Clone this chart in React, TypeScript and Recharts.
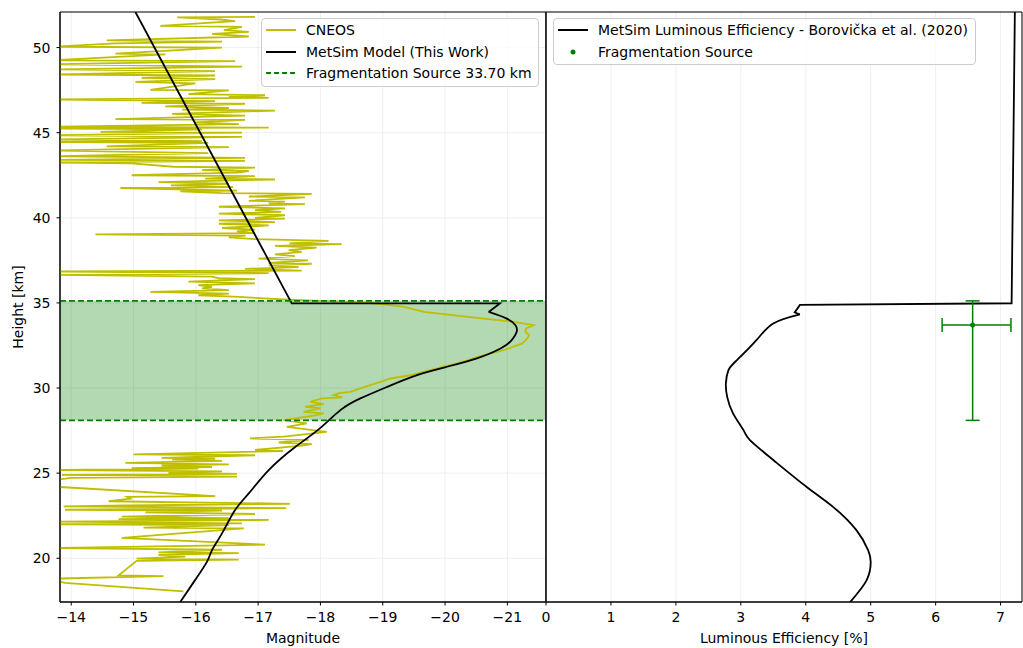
import React from "react";
import {
  ComposedChart,
  Line,
  Scatter,
  ErrorBar,
  XAxis,
  YAxis,
  CartesianGrid,
  ReferenceArea,
  ReferenceLine,
} from "recharts";

// shared height axis [km]
const heightDomain = [17.43, 52.09];
const heightTicks = [20, 25, 30, 35, 40, 45, 50];

// left panel: magnitude (reversed)
const magDomain = [-21.62, -13.82];
const magTicks = [-14, -15, -16, -17, -18, -19, -20, -21];

// right panel: luminous efficiency [%]
const effDomain = [0, 7.33];
const effTicks = [0, 1, 2, 3, 4, 5, 6, 7];

// fragmentation source band [km]
const fragTop = 35.12;
const fragBottom = 28.1;

// CNEOS light curve: [height km, magnitude]
const cneos: [number, number][] = [
  [51.8, -16.95], [51.78, -15.7], [51.65, -16.4], [51.55, -16.63], [51.28, -15.43], [51.22, -16.74],
  [51.02, -16.45], [50.92, -16.85], [50.8, -16.26], [50.65, -16.85], [50.42, -14.57], [50.35, -16.42],
  [50.25, -14.71], [50.05, -13.7], [50.0, -16.42], [49.65, -14.71], [49.6, -15.51], [49.25, -13.7],
  [49.2, -16.63], [49.02, -13.7], [48.88, -16.74], [48.72, -13.75], [48.62, -16.31], [48.42, -13.7],
  [48.36, -16.31], [48.22, -15.13], [48.15, -16.31], [47.98, -15.03], [47.9, -15.99], [47.52, -15.27],
  [47.48, -16.53], [47.26, -15.88], [47.2, -17.11], [47.1, -16.53], [47.05, -17.17], [46.95, -13.7],
  [46.85, -16.31], [46.75, -15.13], [46.7, -16.79], [46.55, -15.51], [46.45, -16.53], [46.35, -15.78],
  [46.3, -17.27], [46.1, -15.62], [46.0, -16.79], [45.8, -14.71], [45.75, -16.79], [45.6, -15.99],
  [45.5, -16.69], [45.35, -13.7], [45.3, -17.17], [45.25, -13.7], [45.2, -16.1], [45.05, -14.47],
  [45.0, -16.74], [44.85, -13.7], [44.75, -16.74], [44.6, -13.7], [44.5, -16.1], [44.45, -13.7],
  [44.4, -16.2], [44.2, -14.57], [44.15, -16.53], [43.95, -13.7], [43.8, -16.2], [43.62, -13.7],
  [43.52, -16.79], [43.4, -13.7], [43.35, -16.79], [43.25, -13.7], [43.2, -14.97], [43.0, -15.64],
  [42.95, -16.95], [42.8, -16.1], [42.75, -16.85], [42.65, -16.66], [42.5, -14.97], [42.45, -16.95],
  [42.3, -16.15], [42.25, -17.27], [42.1, -15.4], [42.0, -16.53], [41.9, -15.6], [41.8, -16.6],
  [41.75, -14.79], [41.6, -16.66], [41.55, -15.75], [41.45, -16.42], [41.4, -17.86], [41.25, -16.85],
  [41.2, -17.75], [41.0, -16.85], [40.95, -17.43], [40.85, -17.17], [40.8, -17.75], [40.65, -16.37],
  [40.55, -17.43], [40.45, -16.95], [40.35, -17.37], [40.25, -16.37], [40.15, -17.43], [40.0, -16.95],
  [39.95, -17.43], [39.85, -16.37], [39.75, -17.27], [39.65, -16.37], [39.55, -17.17], [39.4, -16.42],
  [39.3, -16.95], [39.2, -16.66], [39.1, -16.95], [39.03, -14.39], [38.95, -16.8], [38.85, -16.53],
  [38.75, -16.95], [38.65, -18.13], [38.5, -17.5], [38.45, -18.34], [38.35, -17.27], [38.25, -17.94],
  [38.1, -17.49], [38.0, -17.7], [37.85, -17.27], [37.75, -17.59], [37.6, -17.01], [37.5, -17.8],
  [37.35, -17.17], [37.3, -17.86], [37.2, -17.17], [37.1, -17.65], [37.0, -16.79], [36.9, -17.7],
  [36.85, -13.7], [36.75, -17.17], [36.65, -13.75], [36.55, -16.26], [36.45, -16.37], [36.4, -16.95],
  [36.25, -15.88], [36.15, -16.95], [36.05, -16.04], [35.95, -16.26], [35.85, -16.1], [35.75, -16.53],
  [35.65, -15.27], [35.55, -16.53], [35.45, -16.04], [35.35, -16.69], [35.2, -17.43], [35.12, -18.0],
  [35.05, -18.6], [34.93, -18.99], [34.77, -19.34], [34.47, -19.66], [34.08, -20.62], [33.89, -21.1],
  [33.69, -21.42], [33.5, -21.3], [33.3, -21.29], [33.1, -21.35], [32.91, -21.32], [32.62, -21.24],
  [32.22, -20.94], [31.93, -20.62], [31.44, -20.19], [31.15, -19.87], [30.75, -19.44], [30.56, -19.12],
  [30.4, -19.0], [30.17, -18.8], [29.98, -18.64], [29.78, -18.48], [29.7, -18.3], [29.58, -18.21],
  [29.45, -18.35], [29.39, -18.02], [29.19, -17.84], [29.05, -18.05], [28.9, -17.76], [28.8, -18.0],
  [28.6, -17.73], [28.51, -18.05], [28.41, -17.94], [28.12, -17.41], [27.92, -17.78], [27.72, -17.46],
  [27.43, -18.1], [27.14, -17.41], [27.04, -16.87], [26.95, -17.81], [26.8, -17.33], [26.7, -17.86],
  [26.62, -17.7], [26.36, -16.95], [26.3, -17.4], [26.1, -15.0], [26.05, -16.95], [25.9, -15.45],
  [25.85, -16.31], [25.8, -15.62], [25.72, -16.42], [25.6, -14.87], [25.52, -16.53], [25.45, -15.45],
  [25.36, -16.26], [25.3, -14.97], [25.26, -16.04], [25.18, -13.7], [25.1, -16.42], [25.02, -15.56],
  [24.96, -16.66], [24.9, -13.85], [24.8, -16.66], [24.72, -14.0], [24.58, -13.7], [24.2, -13.75],
  [23.65, -16.31], [23.6, -14.9], [23.5, -14.95], [23.35, -14.6], [23.2, -17.51], [23.1, -14.9],
  [23.05, -13.88], [22.95, -17.45], [22.85, -13.9], [22.8, -16.42], [22.7, -15.19], [22.6, -16.95],
  [22.45, -14.81], [22.35, -16.53], [22.3, -14.76], [22.25, -17.17], [22.15, -13.7], [22.05, -16.74],
  [22.0, -13.7], [21.95, -16.53], [21.8, -15.16], [21.75, -16.77], [21.2, -14.81], [20.8, -17.11],
  [20.6, -13.7], [20.5, -16.42], [20.35, -15.4], [20.3, -16.69], [20.2, -15.4], [20.1, -15.83],
  [19.98, -15.05], [19.92, -16.69], [19.85, -15.05], [19.0, -14.76], [18.95, -15.48], [18.8, -13.7],
  [18.65, -13.8], [18.55, -13.9], [18.05, -15.8],
];

// MetSim model light curve: straight part above the break, smooth part below
const modelUpper: [number, number][] = [
  [52.09, -15.03], [34.97, -17.54], [34.97, -20.88], [34.47, -20.7],
];
const modelLower: [number, number][] = [
  [34.47, -20.7], [34.08, -20.99], [33.69, -21.13], [33.3, -21.15], [32.81, -21.07], [32.32, -20.89],
  [31.74, -20.51], [31.25, -20.03], [30.76, -19.55], [30.07, -19.07], [29.39, -18.64], [28.7, -18.32],
  [27.6, -17.98], [26.55, -17.6], [25.18, -17.17], [23.81, -16.85], [22.83, -16.63], [21.46, -16.42],
  [20.48, -16.26], [19.8, -16.18], [18.73, -15.99], [17.43, -15.75],
];

// MetSim luminous efficiency [%]: straight part above the break, smooth part below
const effUpper: [number, number][] = [
  [52.09, 7.22], [34.98, 7.17], [34.88, 3.91], [34.44, 3.83], [34.32, 3.91],
];
const effLower: [number, number][] = [
  [34.32, 3.91], [33.79, 3.5], [32.81, 3.24], [31.64, 2.94], [31.05, 2.81], [30.27, 2.77],
  [29.48, 2.79], [28.51, 2.88], [27.53, 3.04], [26.94, 3.14], [25.77, 3.5], [24.2, 4.01],
  [23.02, 4.42], [21.65, 4.78], [20.48, 4.96], [19.8, 5.0], [18.73, 4.94], [17.41, 4.68],
];

// fragmentation source with asymmetric errors: eff [low, high], height [low, high]
const fragSource = [{ h: 33.7, eff: 6.57, effErr: [0.47, 0.59], hErr: [5.6, 1.42] }];

const toMag = (rows: [number, number][]) => rows.map(([h, mag]) => ({ h, mag }));
const toEff = (rows: [number, number][]) => rows.map(([h, eff]) => ({ h, eff }));

const FONT = "'DejaVu Sans', sans-serif";
const FS = 14;
const tickStyle = { fontSize: FS, fill: "#000", fontFamily: FONT };
const labelStyle = { fill: "#000", fontSize: FS, fontFamily: FONT };
const GRID = "#ebebeb";
const GREEN = "#008000";
const YELLOW = "#bfbf00";

const fmt = (v: number) => (v < 0 ? `\u2212${Math.abs(v)}` : `${v}`);

type LegendItem = { label: string; kind: "line" | "dash" | "dot"; color: string };

const LegendBox = ({ left, width, items }: { left: number; width: number; items: LegendItem[] }) => (
  <div
    style={{
      position: "absolute",
      left,
      top: 18,
      width,
      height: items.length * 21.5 + 4,
      background: "rgba(255,255,255,0.8)",
      border: "1px solid #cccccc",
      borderRadius: 4,
      boxSizing: "border-box",
      fontFamily: FONT,
      fontSize: FS,
      color: "#000",
    }}
  >
    {items.map((it, i) => (
      <div key={it.label} style={{ position: "absolute", left: 4, top: 1 + i * 21.5, height: 20, display: "flex", alignItems: "center", whiteSpace: "nowrap" }}>
        <svg width={30} height={10} style={{ marginRight: 10 }}>
          {it.kind === "dot" ? (
            <circle cx={15} cy={5} r={2.5} fill={it.color} />
          ) : (
            <line x1={0} x2={30} y1={5} y2={5} stroke={it.color} strokeWidth={2} strokeDasharray={it.kind === "dash" ? "5 3" : undefined} />
          )}
        </svg>
        <span>{it.label}</span>
      </div>
    ))}
  </div>
);

export default function App() {
  return (
    <div style={{ position: "absolute", left: 0, top: 0, width: 1023, height: 648, background: "#fff", overflow: "hidden" }}>
      <div style={{ position: "absolute", left: 0, top: 0 }}>
        <ComposedChart layout="vertical" width={546} height={648} margin={{ top: 12, right: 0, bottom: 0, left: 0 }}>
          <CartesianGrid stroke={GRID} strokeWidth={0.8} />
          <XAxis
            type="number"
            dataKey="mag"
            domain={magDomain}
            reversed
            allowDataOverflow
            ticks={magTicks}
            interval={0}
            tickFormatter={fmt}
            tick={tickStyle}
            tickSize={3.5}
            tickMargin={7}
            stroke="#000"
            height={46}
            label={{ value: "Magnitude", position: "insideBottom", offset: 5, ...labelStyle }}
          />
          <YAxis
            type="number"
            dataKey="h"
            domain={heightDomain}
            reversed
            allowDataOverflow
            ticks={heightTicks}
            interval={0}
            tick={tickStyle}
            tickSize={3.5}
            tickMargin={6}
            stroke="#000"
            width={60}
          />
          <ReferenceArea y1={fragBottom} y2={fragTop} fill={GREEN} fillOpacity={0.3} stroke="none" />
          <Line data={toMag(cneos)} dataKey="mag" type="linear" stroke={YELLOW} strokeWidth={1.8} dot={false} isAnimationActive={false} />
          <Line data={toMag(modelUpper)} dataKey="mag" type="linear" stroke="#000" strokeWidth={1.8} dot={false} isAnimationActive={false} />
          <Line data={toMag(modelLower)} dataKey="mag" type="natural" stroke="#000" strokeWidth={1.8} dot={false} isAnimationActive={false} />
          <ReferenceLine y={fragTop} stroke={GREEN} strokeWidth={1.6} strokeDasharray="6 3" />
          <ReferenceLine y={fragBottom} stroke={GREEN} strokeWidth={1.6} strokeDasharray="6 3" />
          <ReferenceArea
            x1={magDomain[0]}
            x2={magDomain[1]}
            y1={heightDomain[0]}
            y2={heightDomain[1]}
            fill="none"
            stroke="#000"
            strokeWidth={1}
            ifOverflow="visible"
          />
        </ComposedChart>
      </div>

      <div style={{ position: "absolute", left: 536, top: 0 }}>
        <ComposedChart layout="vertical" width={487} height={648} margin={{ top: 12, right: 1, bottom: 0, left: 0 }}>
          <CartesianGrid stroke={GRID} strokeWidth={0.8} />
          <XAxis
            type="number"
            dataKey="eff"
            domain={effDomain}
            allowDataOverflow
            ticks={effTicks}
            interval={0}
            tick={tickStyle}
            tickSize={3.5}
            tickMargin={7}
            stroke="#000"
            height={46}
            label={{ value: "Luminous Efficiency [%]", position: "insideBottom", offset: 5, ...labelStyle }}
          />
          <YAxis
            type="number"
            dataKey="h"
            domain={heightDomain}
            reversed
            allowDataOverflow
            ticks={heightTicks}
            interval={0}
            tick={false}
            tickSize={3.5}
            stroke="#000"
            width={10}
          />
          <Line data={toEff(effUpper)} dataKey="eff" type="linear" stroke="#000" strokeWidth={1.8} dot={false} isAnimationActive={false} />
          <Line data={toEff(effLower)} dataKey="eff" type="natural" stroke="#000" strokeWidth={1.8} dot={false} isAnimationActive={false} />
          <Scatter
            data={fragSource}
            fill={GREEN}
            isAnimationActive={false}
            shape={(p: any) => <circle cx={p.cx} cy={p.cy} r={2.5} fill={GREEN} />}
          >
            <ErrorBar dataKey="effErr" direction="x" width={7} stroke={GREEN} strokeWidth={1.5} />
            <ErrorBar dataKey="hErr" direction="y" width={7} stroke={GREEN} strokeWidth={1.5} />
          </Scatter>
          <ReferenceArea
            x1={effDomain[0]}
            x2={effDomain[1]}
            y1={heightDomain[0]}
            y2={heightDomain[1]}
            fill="none"
            stroke="#000"
            strokeWidth={1}
            ifOverflow="visible"
          />
        </ComposedChart>
      </div>

      <div
        style={{
          position: "absolute",
          left: 18,
          top: 307,
          transform: "translate(-50%, -50%) rotate(-90deg)",
          fontFamily: FONT,
          fontSize: FS,
          whiteSpace: "nowrap",
          color: "#000",
        }}
      >
        Height [km]
      </div>

      <LegendBox
        left={261}
        width={278}
        items={[
          { label: "CNEOS", kind: "line", color: YELLOW },
          { label: "MetSim Model (This Work)", kind: "line", color: "#000" },
          { label: "Fragmentation Source 33.70 km", kind: "dash", color: GREEN },
        ]}
      />
      <LegendBox
        left={553}
        width={423}
        items={[
          { label: "MetSim Luminous Efficiency - Borovička et al. (2020)", kind: "line", color: "#000" },
          { label: "Fragmentation Source", kind: "dot", color: GREEN },
        ]}
      />
    </div>
  );
}
